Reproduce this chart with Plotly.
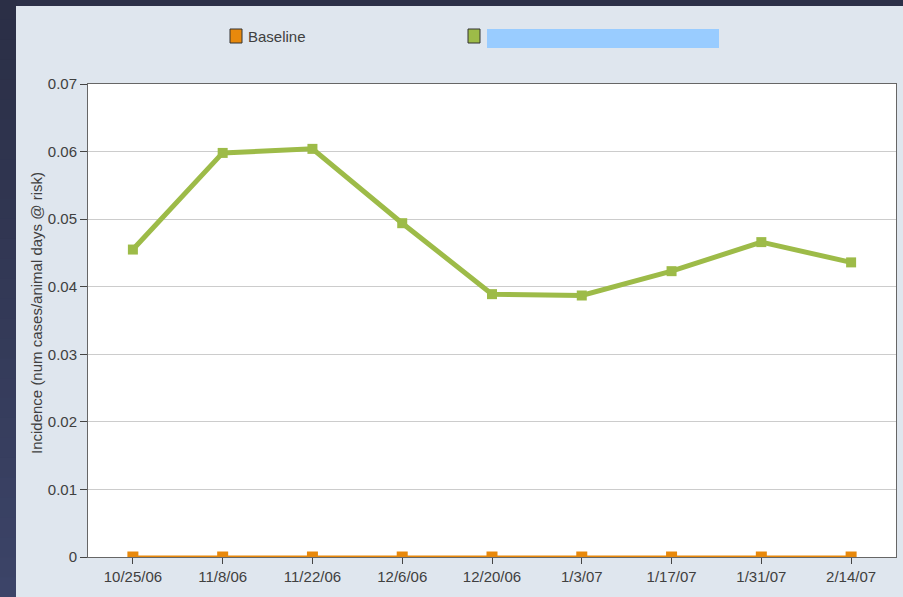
import plotly.graph_objects as go

# ==========================================================
# DATA
# ==========================================================

dates = [
    "10/25/06", "11/8/06", "11/22/06", "12/6/06", "12/20/06",
    "1/3/07", "1/17/07", "1/31/07", "2/14/07"
]

baseline = [0, 0, 0, 0, 0, 0, 0, 0, 0]

incidence = [
    0.0455, 0.0598, 0.0604, 0.0494, 0.0389,
    0.0387, 0.0423, 0.0466, 0.0436
]

y_ticks = [0, 0.01, 0.02, 0.03, 0.04, 0.05, 0.06, 0.07]
y_tick_labels = ["0", "0.01", "0.02", "0.03", "0.04", "0.05", "0.06", "0.07"]

# ==========================================================
# LAYOUT HELPERS (pixel -> paper)
# ==========================================================

W, H = 903, 597
L, R, T, B = 88, 7, 84, 40
PW = W - L - R
PH = H - T - B


def px(x):
    return (x - L) / PW


def py(y):
    return (H - B - y) / PH


ORANGE = "#e8890c"
GREEN = "#9dbb48"
TEXT = "#404040"
FONT = "Liberation Sans, Arial, sans-serif"

fig = go.Figure()

fig.add_trace(
    go.Scatter(
        x=dates,
        y=baseline,
        mode="lines+markers",
        name="Baseline",
        line=dict(color=ORANGE, width=3),
        marker=dict(symbol="square", size=11, color=ORANGE),
        cliponaxis=True,
        showlegend=False
    )
)

fig.add_trace(
    go.Scatter(
        x=dates,
        y=incidence,
        mode="lines+markers",
        name=" ",
        line=dict(color=GREEN, width=5),
        marker=dict(symbol="square", size=10, color=GREEN),
        showlegend=False
    )
)

# ==========================================================
# BACKGROUND: dark frame + light panel
# ==========================================================

shapes = []

top_col = (43, 47, 70)
bot_col = (60, 68, 104)
bands = 30
for i in range(bands):
    f = i / (bands - 1)
    c = tuple(int(top_col[k] + (bot_col[k] - top_col[k]) * f) for k in range(3))
    y0 = H * i / bands
    y1 = H * (i + 1) / bands + 1
    shapes.append(dict(
        type="rect", xref="paper", yref="paper", layer="below",
        x0=px(0), x1=px(17), y0=py(y1), y1=py(y0),
        fillcolor="rgb(%d,%d,%d)" % c, line=dict(width=0)
    ))

shapes.append(dict(
    type="rect", xref="paper", yref="paper", layer="below",
    x0=px(16), x1=px(W + 2), y0=py(H + 2), y1=py(6),
    fillcolor="#dfe6ee", line=dict(width=0)
))

shapes.append(dict(
    type="rect", xref="paper", yref="paper", layer="below",
    x0=0, x1=1, y0=0, y1=1,
    fillcolor="white", line=dict(width=0)
))

# legend
shapes.append(dict(
    type="rect", xref="paper", yref="paper",
    x0=px(230), x1=px(242), y0=py(43), y1=py(29),
    fillcolor=ORANGE, line=dict(color="#333333", width=1)
))
shapes.append(dict(
    type="rect", xref="paper", yref="paper",
    x0=px(468), x1=px(480), y0=py(43), y1=py(29),
    fillcolor=GREEN, line=dict(color="#333333", width=1)
))
shapes.append(dict(
    type="rect", xref="paper", yref="paper",
    x0=px(487), x1=px(719), y0=py(48), y1=py(29),
    fillcolor="#99ccff", line=dict(width=0)
))

annotations = [
    dict(
        text="Baseline", xref="paper", yref="paper",
        x=px(246), y=py(37), xanchor="left", yanchor="middle",
        showarrow=False, font=dict(size=15, color=TEXT)
    ),
    dict(
        text="Incidence (num cases/animal days @ risk)",
        xref="paper", yref="paper",
        x=px(36), y=py(313), textangle=-90,
        xanchor="center", yanchor="middle",
        showarrow=False, font=dict(size=15, color=TEXT)
    )
]

fig.update_layout(

    width=W,

    height=H,

    margin=dict(l=L, r=R, t=T, b=B),

    paper_bgcolor="#2c3048",

    plot_bgcolor="rgba(0,0,0,0)",

    font=dict(family=FONT, size=15, color=TEXT),

    shapes=shapes,

    annotations=annotations,

    showlegend=False

)

fig.update_xaxes(
    type="category",
    range=[-0.5, len(dates) - 0.5],
    showgrid=False,
    showline=True,
    linecolor="#666666",
    linewidth=1,
    mirror=True,
    ticks="outside",
    ticklen=6,
    tickcolor="#444444",
    tickfont=dict(size=15, color=TEXT),
    zeroline=False
)

fig.update_yaxes(
    range=[0, 0.07],
    tickvals=y_ticks,
    ticktext=y_tick_labels,
    showgrid=True,
    gridcolor="#cccccc",
    gridwidth=1,
    showline=True,
    linecolor="#666666",
    linewidth=1,
    mirror=True,
    ticks="outside",
    ticklen=7,
    tickcolor="#444444",
    tickfont=dict(size=15, color=TEXT),
    zeroline=False
)

fig.write_html(
    "out.html",
    config={"displayModeBar": False},
    post_script="document.body.style.margin='0';"
)
